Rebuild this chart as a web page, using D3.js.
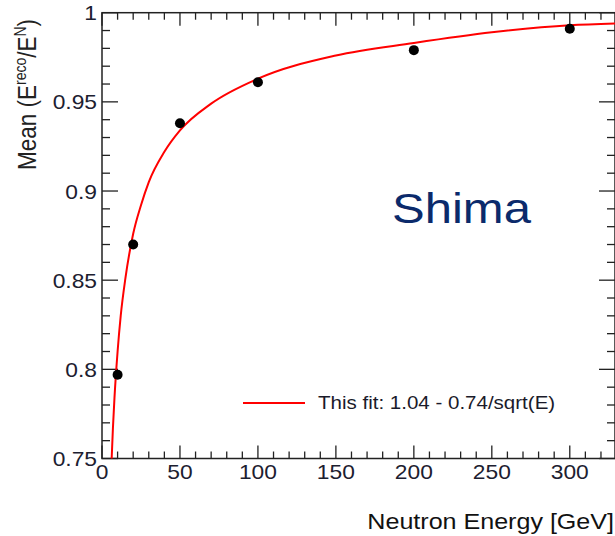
<!DOCTYPE html>
<html><head><meta charset="utf-8">
<script src="https://cdn.jsdelivr.net/npm/d3@7"></script>
<style>body{margin:0;background:#fff}svg{display:block}</style>
</head><body>
<svg id="c" width="615" height="536"></svg>
<script>
const energies = [10, 20, 50, 100, 200, 300];
const means = [0.797, 0.870, 0.938, 0.961, 0.979, 0.991];
const fitE = [6.2, 7, 8, 10, 12, 15, 20, 25, 30, 40, 50, 70, 100, 150, 200, 250, 300, 329];
const fitMean = [0.75, 0.767, 0.784, 0.810, 0.830, 0.851, 0.876, 0.892, 0.905, 0.922, 0.934, 0.949, 0.963, 0.976, 0.983, 0.989, 0.993, 0.994];
const xTicks = [0, 50, 100, 150, 200, 250, 300];
const yTicks = [0.75, 0.8, 0.85, 0.9, 0.95, 1];
const legendText = "This fit: 1.04 - 0.74/sqrt(E)";

const svg = d3.select("#c");
const x = d3.scaleLinear().domain([0, 329]).range([102, 615]);
const y = d3.scaleLinear().domain([0.75, 1]).range([458.5, 12.7]);
const font = "Liberation Sans, Arial, Helvetica, sans-serif";
const tickCol = "#222";
const SX = 1.14;

function txt(parent, px, py, s, size, anchor, fill) {
  return parent.append("text")
    .attr("transform", `translate(${px},${py}) scale(${SX},1)`)
    .attr("text-anchor", anchor).attr("font-family", font).attr("font-size", size)
    .attr("fill", fill).text(s);
}

// frame
const g = svg.append("g");
g.append("rect").attr("x", x(0)).attr("y", y(1)).attr("width", x(329) - x(0)).attr("height", y(0.75) - y(1))
  .attr("fill", "none").attr("stroke", tickCol).attr("stroke-width", 1.5);

// ticks
const xMinor = d3.range(0, 330, 10);
const yMinor = d3.range(0, 26).map(i => 0.75 + i * 0.01);
xMinor.forEach(v => {
  const major = v % 50 === 0;
  const L = major ? 13 : 7;
  g.append("line").attr("x1", x(v)).attr("x2", x(v)).attr("y1", y(0.75)).attr("y2", y(0.75) - L).attr("stroke", tickCol).attr("stroke-width", 1.3);
  g.append("line").attr("x1", x(v)).attr("x2", x(v)).attr("y1", y(1)).attr("y2", y(1) + L).attr("stroke", tickCol).attr("stroke-width", 1.3);
});
yMinor.forEach(v => {
  const major = Math.abs(Math.round(v * 100) % 5) === 0;
  const L = major ? 16 : 8;
  g.append("line").attr("x1", x(0)).attr("x2", x(0) + L).attr("y1", y(v)).attr("y2", y(v)).attr("stroke", tickCol).attr("stroke-width", 1.3);
  g.append("line").attr("x1", x(329)).attr("x2", x(329) - L).attr("y1", y(v)).attr("y2", y(v)).attr("stroke", tickCol).attr("stroke-width", 1.3);
});

// tick labels
const labCol = "#1c2030";
const xl = svg.append("g");
xTicks.forEach(d => txt(xl, x(d), 479, String(d), 20, "middle", labCol));
const yl = svg.append("g");
yTicks.forEach(d => txt(yl, 97, y(d) + 7.5, d === 1 ? "1" : d3.format(".2~f")(d), 20, "end", labCol));

// fit curve
const line = d3.line().x((d, i) => x(fitE[i])).y(d => y(d)).curve(d3.curveMonotoneX);
svg.append("path").attr("d", line(fitMean)).attr("fill", "none").attr("stroke", "#ff0000").attr("stroke-width", 2);

// points
svg.append("g").selectAll("circle").data(means).join("circle")
  .attr("cx", (d, i) => x(energies[i])).attr("cy", d => y(d)).attr("r", 5).attr("fill", "#000");

// legend
svg.append("line").attr("x1", 243).attr("x2", 305).attr("y1", 403).attr("y2", 403).attr("stroke", "#ff0000").attr("stroke-width", 2);
txt(svg, 318, 409, legendText, 18, "start", "#1a1a2a");

// Shima
txt(svg, 392, 223, "Shima", 43, "start", "#0b2a6b");

// axis titles
txt(svg, 614, 529, "Neutron Energy [GeV]", 22, "end", "#111");
const yt = svg.append("text").attr("transform", `translate(36,170) scale(${SX},1) rotate(-90)`)
  .attr("font-family", font).attr("font-size", 22.5).attr("fill", "#222");
yt.append("tspan").text("Mean (E");
yt.append("tspan").attr("font-size", 14).attr("dy", -9).text("reco");
yt.append("tspan").attr("dy", 9).text("/E");
yt.append("tspan").attr("font-size", 14).attr("dy", -9).text("N");
yt.append("tspan").attr("dy", 9).text(")");
</script>
</body></html>
